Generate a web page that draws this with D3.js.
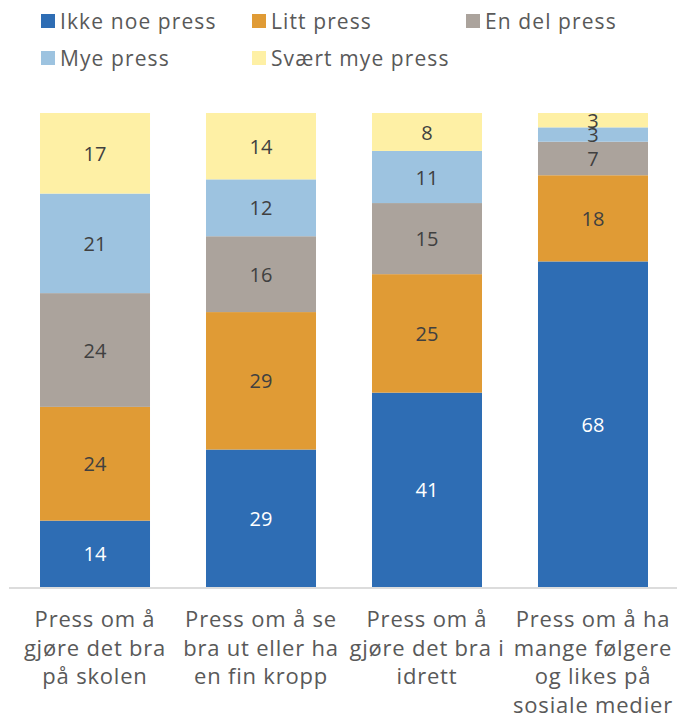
<!DOCTYPE html>
<html>
<head>
<meta charset="utf-8">
<script src="https://cdn.jsdelivr.net/npm/d3@7"></script>
<style>
  body { margin: 0; background: #fff; }
  text { font-family: "Open Sans", "Noto Sans", sans-serif; }
</style>
</head>
<body>
<div id="chart"></div>
<script>
var WIDTH = 677, HEIGHT = 716;

const categories = [
  ["Press om å", "gjøre det bra", "på skolen"],
  ["Press om å se", "bra ut eller ha", "en fin kropp"],
  ["Press om å", "gjøre det bra i", "idrett"],
  ["Press om å ha", "mange følgere", "og likes på", "sosiale medier"]
]
const series = ["Ikke noe press", "Litt press", "En del press", "Mye press", "Svært mye press"]
const colors = ["#2e6db4", "#e09b35", "#aba39c", "#9dc3e0", "#fef0a5"]
const ikkeNoe = [14, 29, 41, 68]
const litt = [24, 29, 25, 18]
const enDel = [24, 16, 15, 7]
const mye = [21, 12, 11, 3]
const svaertMye = [17, 14, 8, 3]

const values = [ikkeNoe, litt, enDel, mye, svaertMye]
const svg = d3.select('#chart').append("svg").attr("width", WIDTH).attr("height", HEIGHT)

// scales (100% stacked, each bar fills the full height)
const x = d3.scaleBand().domain(d3.range(categories.length)).range([12, 676]).paddingInner(0.3373).paddingOuter(0.1687)
const y = d3.scaleLinear().domain([0, 1]).range([587, 113])

const rows = categories.map((c, i) => {
  const r = { i: i }
  series.forEach((s, k) => r[s] = values[k][i])
  return r
})
const stacked = d3.stack().keys(series).offset(d3.stackOffsetExpand)(rows)

stacked.forEach((layer, k) => {
  const g = svg.append("g")
  g.selectAll("rect").data(layer).enter().append("rect")
    .attr("x", d => x(d.data.i)).attr("width", x.bandwidth())
    .attr("y", d => y(d[1])).attr("height", d => y(d[0]) - y(d[1]))
    .attr("fill", colors[k])
  g.selectAll("text").data(layer).enter().append("text")
    .attr("x", d => x(d.data.i) + x.bandwidth() / 2)
    .attr("y", d => (y(d[0]) + y(d[1])) / 2)
    .attr("dy", "0.38em")
    .attr("text-anchor", "middle")
    .attr("font-size", 20)
    .attr("fill", k == 0 ? "#ffffff" : "#404040")
    .text(d => d.data[series[k]])
})

// baseline
svg.append("line").attr("x1", 9).attr("x2", 677).attr("y1", 588).attr("y2", 588)
  .attr("stroke", "#d0d0d0").attr("stroke-width", 1.5)

// category labels
categories.forEach((lines, i) => {
  const t = svg.append("text").attr("text-anchor", "middle").attr("font-size", 22)
    .attr("letter-spacing", 0.8).attr("fill", "#595959")
  lines.forEach((l, j) => {
    t.append("tspan").attr("x", x(i) + x.bandwidth() / 2).attr("y", 627 + j * 28.5).text(l)
  })
})

// legend
const legendPos = [[41, 21], [252, 21], [466, 21], [41, 58], [252, 58]]
series.forEach((s, k) => {
  const row = svg.append("g").attr("transform", "translate(" + legendPos[k][0] + "," + legendPos[k][1] + ")")
  row.append("rect").attr("x", 0).attr("y", -7).attr("width", 14).attr("height", 14).attr("fill", colors[k])
  row.append("text").attr("x", 19).attr("dy", "0.36em").attr("font-size", 21)
    .attr("letter-spacing", 1.1).attr("fill", "#595959").text(s)
})
</script>
</body>
</html>
